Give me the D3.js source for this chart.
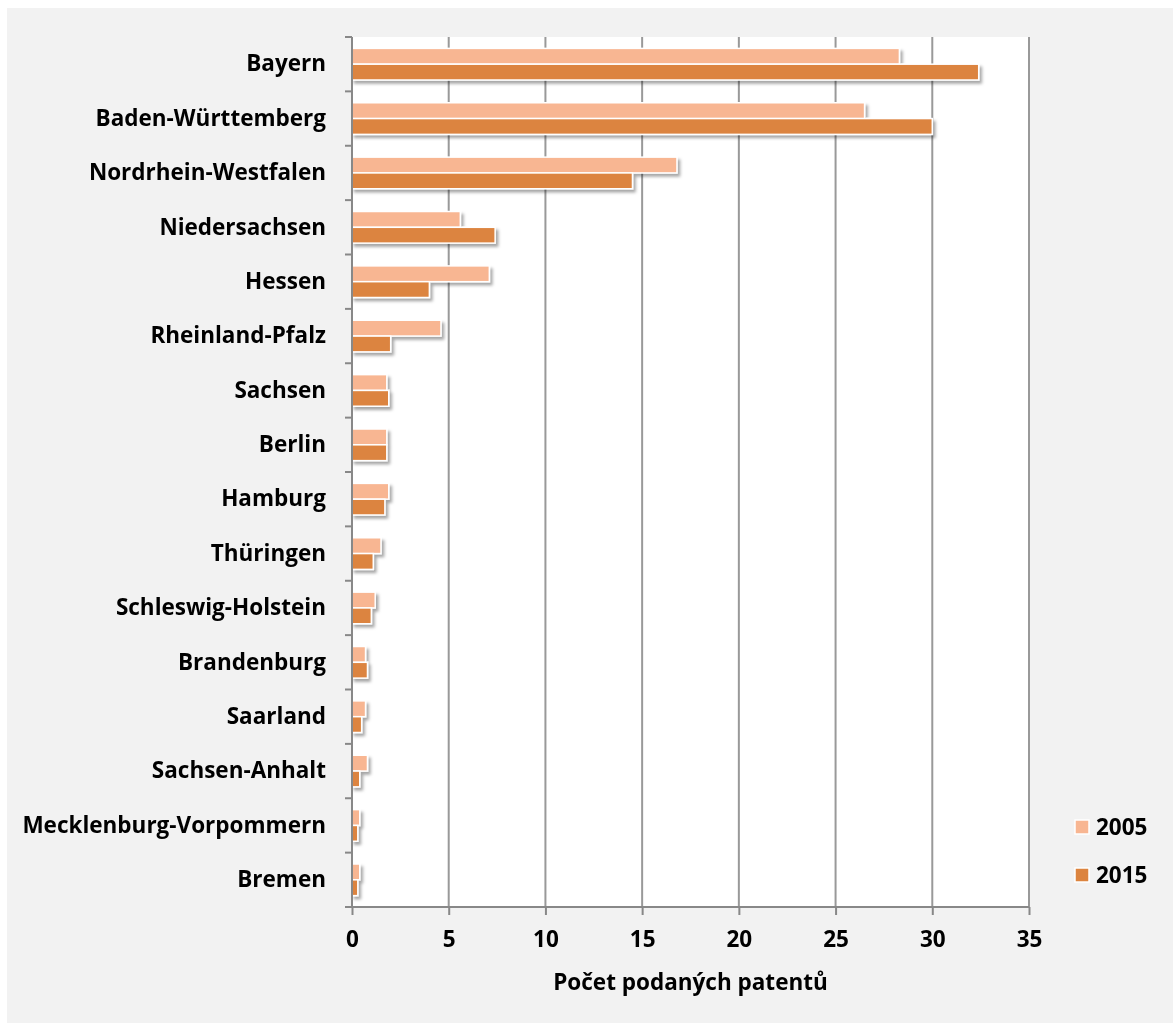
<!DOCTYPE html>
<html><head><meta charset="utf-8">
<script src="https://cdn.jsdelivr.net/npm/d3@7"></script>
<style>
body{margin:0;background:#fff;}
text{font-family:"Open Sans",Lato,sans-serif;font-weight:bold;fill:#000;}
</style></head>
<body>
<svg id="chart" width="1173" height="1023"></svg>
<script>
const categories = ["Bayern","Baden-Württemberg","Nordrhein-Westfalen","Niedersachsen","Hessen","Rheinland-Pfalz","Sachsen","Berlin","Hamburg","Thüringen","Schleswig-Holstein","Brandenburg","Saarland","Sachsen-Anhalt","Mecklenburg-Vorpommern","Bremen"];
const seriesNames = ["2005","2015"];
const values2005 = [28.3,26.5,16.8,5.6,7.1,4.6,1.8,1.8,1.9,1.5,1.2,0.7,0.7,0.8,0.4,0.4];
const values2015 = [32.4,30.0,14.5,7.4,4.0,2.0,1.9,1.8,1.7,1.1,1.0,0.8,0.5,0.4,0.3,0.3];
const xTicks = [0,5,10,15,20,25,30,35];
const xTitle = "Počet podaných patentů";
const colors = {"2005":"#F8B692","2015":"#DC843F"};

const FS = 22.5;
const svg = d3.select("#chart");
const defs = svg.append("defs");
const f = defs.append("filter").attr("id","sh").attr("x","-10%").attr("y","-50%").attr("width","130%").attr("height","250%");
f.append("feDropShadow").attr("dx",2.5).attr("dy",3).attr("stdDeviation",1.8).attr("flood-color","#000").attr("flood-opacity",0.35);

svg.append("rect").attr("x",7).attr("y",8).attr("width",1166).attr("height",1015).attr("fill","#f2f2f2");

const L=352, R=1029, T=37, B=907;
svg.append("rect").attr("x",L).attr("y",T).attr("width",R-L).attr("height",B-T).attr("fill","#fff");

const x = d3.scaleLinear().domain([0,35]).range([L,R]);
const y0 = d3.scaleBand().domain(categories).range([T,B]).padding(0);
const y1 = d3.scaleBand().domain(seriesNames).range([0,y0.bandwidth()]).paddingInner(0).paddingOuter(0.72);

// gridlines
svg.append("g").selectAll("line").data(xTicks.slice(1)).join("line")
  .attr("x1",d=>x(d)).attr("x2",d=>x(d)).attr("y1",T).attr("y2",B)
  .attr("stroke","#999").attr("stroke-width",2);

const rows = categories.map((c,i)=>({cat:c, vals:[{s:"2005",v:values2005[i]},{s:"2015",v:values2015[i]}]}));
const g = svg.append("g").attr("filter","url(#sh)");
g.selectAll("g").data(rows).join("g")
  .attr("transform",d=>`translate(0,${y0(d.cat)})`)
  .selectAll("rect").data(d=>d.vals).join("rect")
  .attr("x",x(0)).attr("y",d=>y1(d.s)).attr("width",d=>x(d.v)-x(0)).attr("height",y1.bandwidth())
  .attr("fill",d=>colors[d.s]).attr("stroke","#fff").attr("stroke-width",1.5);

// y axis
const yAxis = d3.axisLeft(y0).tickSize(0).tickPadding(26);
const ya = svg.append("g").attr("transform",`translate(${L},0)`).call(yAxis);
ya.select(".domain").remove();
ya.selectAll("text").attr("font-size",FS).style("font-family","'Open Sans'").style("font-weight","bold").attr("fill","#000");
// y ticks at band boundaries
const bounds = categories.map(c=>y0(c)).concat([B]);
svg.append("g").selectAll("line").data(bounds).join("line")
  .attr("x1",L-7).attr("x2",L).attr("y1",d=>d).attr("y2",d=>d).attr("stroke","#888").attr("stroke-width",2);
svg.append("line").attr("x1",L).attr("x2",L).attr("y1",T).attr("y2",B).attr("stroke","#888").attr("stroke-width",2);

// x axis
const xAxis = d3.axisBottom(x).tickValues(xTicks).tickSize(8).tickPadding(16).tickFormat(d3.format("d"));
const xa = svg.append("g").attr("transform",`translate(0,${B})`).call(xAxis);
xa.select(".domain").attr("stroke","#888").attr("stroke-width",2).attr("d",`M${L-7},0H${R}`);
xa.selectAll(".tick line").attr("stroke","#888").attr("stroke-width",2);
xa.selectAll("text").attr("font-size",FS).style("font-family","'Open Sans'").style("font-weight","bold").attr("fill","#000");

svg.append("text").attr("x",(L+R)/2).attr("y",990).attr("text-anchor","middle").attr("font-size",FS).text(xTitle);

// legend
const leg = svg.append("g");
seriesNames.forEach((s,i)=>{
  const yy = 820 + i*48;
  leg.append("rect").attr("x",1075).attr("y",yy).attr("width",14).attr("height",14).attr("fill",colors[s]).attr("stroke","#fff").attr("stroke-width",1.5);
  leg.append("text").attr("x",1096).attr("y",yy+15).attr("font-size",FS).text(s);
});
</script>
</body></html>
